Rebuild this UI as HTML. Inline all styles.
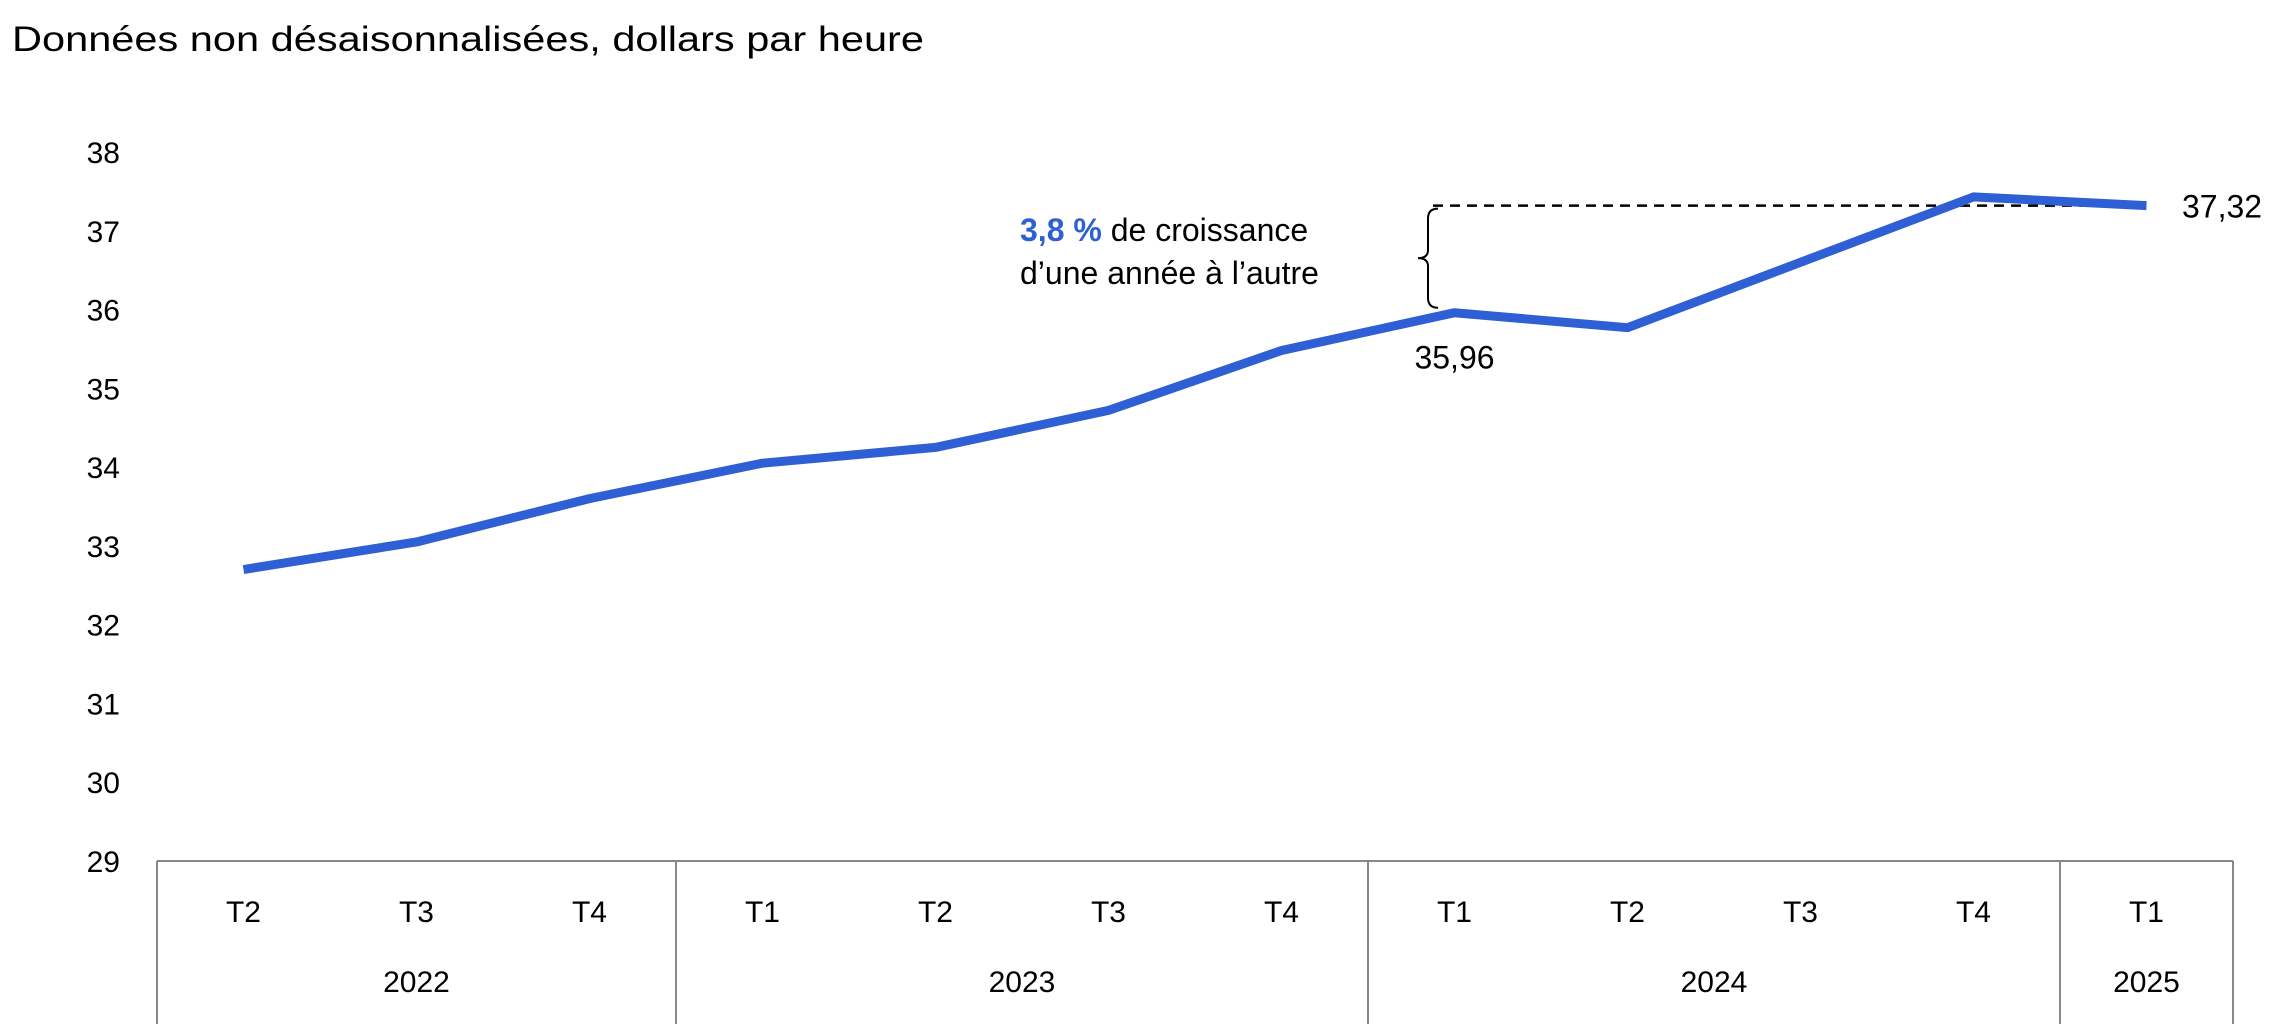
<!DOCTYPE html>
<html><head><meta charset="utf-8"><style>
html,body{margin:0;padding:0;background:#fff;}
svg{display:block;font-family:"Liberation Sans",Arial,sans-serif;}
</style></head><body>
<svg id="chart" width="2296" height="1024" viewBox="0 0 2296 1024" xmlns="http://www.w3.org/2000/svg">
<text x="12" y="51" font-size="35" fill="#000" textLength="912" lengthAdjust="spacingAndGlyphs">Données non désaisonnalisées, dollars par heure</text>
<g id="yaxis"></g>
<g id="xaxis"></g>
<g id="series"></g>
<g id="annot">
<text x="1020" y="241" font-size="32" fill="#000"><tspan font-weight="bold" fill="#2e5fd4">3,8 %</tspan> de croissance</text>
<text x="1020" y="284" font-size="32" fill="#000">d’une année à l’autre</text>
</g>
</svg>
<script>
const categories = ["T2","T3","T4","T1","T2","T3","T4","T1","T2","T3","T4","T1"];
const years = ["2022","2023","2024","2025"];
const yearCounts = [3,4,4,1];
const values = [32.7,33.05,33.6,34.05,34.25,34.72,35.48,35.96,35.77,36.6,37.43,37.32];
const yTicks = [29,30,31,32,33,34,35,36,37,38];
const labelStart = "35,96";
const labelEnd = "37,32";

const NS="http://www.w3.org/2000/svg";
const L=157,R=2233,Y0=861,Y1=152,yMin=29,yMax=38;
const band=(R-L)/categories.length;
function x(i){return L+band*(i+0.5);}
function y(v){return Y0-(v-yMin)/(yMax-yMin)*(Y0-Y1);}
function mk(tag,attrs,parent){const e=document.createElementNS(NS,tag);for(const k in attrs)e.setAttribute(k,attrs[k]);parent.appendChild(e);return e;}

const ya=document.getElementById('yaxis');
yTicks.forEach(t=>{
  const e=mk('text',{x:120,y:y(t)+11,'font-size':30,'text-anchor':'end',fill:'#000'},ya);
  
  
  e.textContent=t;
});

const xa=document.getElementById('xaxis');
const base=mk('line',{x1:L,x2:R,y1:Y0,y2:Y0,stroke:'#888','stroke-width':2},xa);


categories.forEach((c,i)=>{
  const e=mk('text',{x:x(i),y:922,'font-size':30,'text-anchor':'middle',fill:'#000'},xa);
  
  
  e.textContent=c;
});
let idx=0;
const bounds=[0];
yearCounts.forEach((n,k)=>{
  const a=idx,b=idx+n;
  const e=mk('text',{x:(x(a)+x(b-1))/2,y:992,'font-size':30,'text-anchor':'middle',fill:'#000'},xa);
  
  
  e.textContent=years[k];
  idx=b;bounds.push(b);
});
bounds.forEach(b=>{
  const d=mk('line',{x1:L+band*b,x2:L+band*b,y1:Y0,y2:1024,stroke:'#888','stroke-width':2},xa);
  
  
});

const s=document.getElementById('series');
const last=values.length-1;
const dash=mk('line',{x1:1433,x2:x(last),y1:y(values[last]),y2:y(values[last]),stroke:'#000','stroke-width':2.5,'stroke-dasharray':'10,7'},s);


const p=mk('polyline',{points:values.map((v,i)=>x(i)+','+y(v)).join(' '),fill:'none',stroke:'#2e5fd4','stroke-width':9,'stroke-linejoin':'round'},s);


const ya1=y(values[last])+3, yb=y(values[7])-5, ym=(ya1+yb)/2;
const br=mk('path',{d:`M1438 ${ya1} Q1428 ${ya1} 1428 ${ya1+10} L1428 ${ym-8} Q1428 ${ym} 1418 ${ym} Q1428 ${ym} 1428 ${ym+8} L1428 ${yb-10} Q1428 ${yb} 1438 ${yb}`,fill:'none',stroke:'#000','stroke-width':2},s);


const l1=mk('text',{x:x(7),y:y(values[7])+56,'font-size':32,'text-anchor':'middle',fill:'#000'},s);


l1.textContent=labelStart;
const l2=mk('text',{x:2182,y:y(values[last])+12,'font-size':32,fill:'#000'},s);


l2.textContent=labelEnd;
</script>
</body></html>
